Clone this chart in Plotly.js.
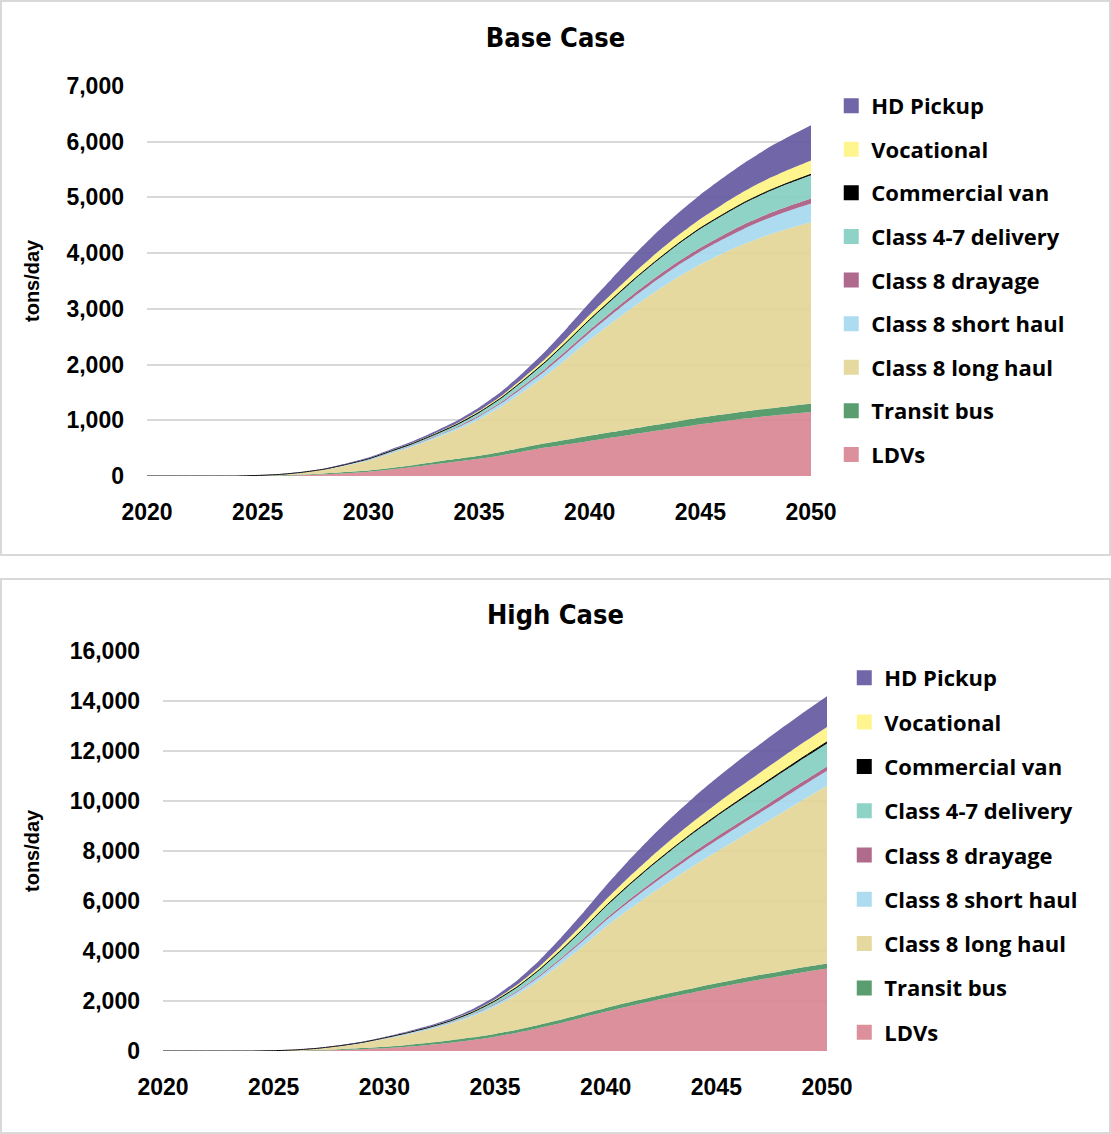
<!DOCTYPE html>
<html>
<head>
<meta charset="utf-8">
<script src="https://cdn.plot.ly/plotly-3.0.1.min.js"></script>
<style>
  html, body { margin: 0; padding: 0; background: #ffffff; }
  #wrap { position: relative; width: 1111px; height: 1134px; overflow: hidden; }
  .chart { position: absolute; left: 0; width: 1111px; height: 556px; }
  .box { position: absolute; border: 2px solid #d9d9d9; pointer-events: none; z-index: 10; box-sizing: border-box; }
</style>
</head>
<body>
<div id="wrap">
  <div id="base" class="chart" style="top:0px;"></div>
  <div id="high" class="chart" style="top:578px;"></div>
  <div class="box" style="left:0px; top:0px; width:1111px; height:556px;"></div>
  <div class="box" style="left:0px; top:578px; width:1111px; height:556px;"></div>
</div>
<script>
// ---------- DATA ----------
const years = [2020,2021,2022,2023,2024,2025,2026,2027,2028,2029,2030,2031,2032,2033,2034,2035,2036,2037,2038,2039,2040,2041,2042,2043,2044,2045,2046,2047,2048,2049,2050];
const seriesNames = ["LDVs","Transit bus","Class 8 long haul","Class 8 short haul","Class 8 drayage","Class 4-7 delivery","Commercial van","Vocational","HD Pickup"];

// Base Case (tons/day)
const baseLDV      = [0,0,0,0,0, 2,6,15,30,50, 75,115,160,210,260, 310,370,440,510,570, 630,690,750,810,870, 930,980,1030,1075,1115, 1150];
const baseTransit  = [0,0,0,0,0, 3,6,10,15,20, 25,30,35,42,48, 55,62,70,76,85, 92,98,103,108,113, 118,123,128,133,139, 145];
const baseLongHaul = [0,0,0,0,0, 4,14,35,66,120, 175,255,330,420,520, 650,810,1000,1210,1460, 1720,1960,2190,2400,2590, 2750,2890,3010,3110,3190, 3260];
const baseShortHaul= [0,0,0,0,0, 0.5,1,3,5,8, 13,18,24,30,38, 50,62,78,95,112, 130,150,170,190,210, 230,250,275,295,315, 335];
const baseDrayage  = [0,0,0,0,0, 0,0.5,1,2,3, 5,7,9,12,15, 20,25,30,36,42, 48,53,57,62,66, 70,74,78,82,86, 90];
const baseDelivery = [0,0,0,0,0, 0.5,1,2,4,7, 12,17,22,30,40, 52,68,90,115,145, 180,210,250,280,310, 340,360,380,395,408, 420];
const baseVan      = [0,0,0,0,0, 0,0,0.5,1,1, 2,2,3,3,4, 5,5,6,7,8, 9,10,10,11,12, 12,13,13,14,14, 15];
const baseVoc      = [0,0,0,0,0, 0,0.5,1,2,4, 7,10,13,17,22, 28,35,45,55,70, 85,100,115,135,150, 165,185,200,220,235, 250];
const baseHD       = [0,0,0,0,0, 0,1,3,6,10, 16,22,28,35,45, 60,75,100,135,175, 220,270,320,365,400, 435,470,510,550,590, 630];

// High Case (tons/day)
const highLDV      = [0,0,0,0,0, 3,10,25,45,75, 110,170,240,330,440, 570,730,920,1120,1350, 1570,1780,1980,2170,2350, 2530,2700,2860,3010,3160, 3300];
const highTransit  = [0,0,0,0,0, 5,12,20,30,42, 60,75,90,100,107, 115,125,135,140,145, 155,160,165,170,175, 180,185,190,193,197, 200];
const highLongHaul = [0,0,0,0,0, 3,17,53,118,197, 309,410,520,660,845, 1090,1391,1771,2238,2718, 3238,3690,4110,4510,4900, 5260,5610,5970,6350,6730, 7110];
const highShortHaul= [0,0,0,0,0, 1,3,6,10,15, 20,28,38,50,65, 85,110,140,172,205, 245,290,335,380,420, 455,490,520,550,575, 600];
const highDrayage  = [0,0,0,0,0, 0,1,2,3,5, 8,11,15,20,26, 33,42,52,62,72, 82,92,102,112,122, 132,142,152,160,168, 175];
const highDelivery = [0,0,0,0,0, 1,2,4,7,11, 16,24,34,48,70, 105,155,220,300,390, 480,570,650,715,770, 815,850,875,895,910, 920];
const highVan      = [0,0,0,0,0, 0,0,0,1,1, 2,2,3,4,5, 7,9,12,15,18, 22,26,30,34,38, 42,46,50,53,57, 60];
const highVoc      = [0,0,0,0,0, 1,2,4,6,9, 13,18,24,32,42, 60,88,125,168,212, 258,305,350,395,435, 470,505,535,560,582, 600];
const highHD       = [0,0,0,0,0, 1,3,6,10,15, 22,30,42,58,80, 115,170,245,335,440, 550,670,780,875,955, 1025,1085,1135,1175,1205, 1230];

const xTicks = [2020,2025,2030,2035,2040,2045,2050];

// ---------- STYLE ----------
const fillColors = ["rgba(215,132,145,0.9)","rgba(72,147,96,0.9)","rgba(226,213,149,0.9)","rgba(164,216,238,0.9)",
                    "rgba(167,89,127,0.9)","rgba(131,206,192,0.9)","rgba(0,0,0,1)","rgba(255,244,130,0.9)","rgba(96,85,158,0.9)"];
const legendColors = ["#DB909C","#5A9E70","#E5D9A0","#ADDCF0","#B06A8C","#8FD3C6","#000000","#FFF58F","#7066A8"];

const axisFont = {family: "Liberation Sans, Arial, sans-serif", size: 23, color: "#000000", weight: "bold"};
const legendFont = {family: "Open Sans, Noto Sans, sans-serif", size: 22, color: "#000000", weight: "bold"};
const titleFont = {family: "Liberation Sans Narrow, Arial Narrow, DejaVu Sans Condensed, sans-serif", size: 27, color: "#000000", weight: "bold"};

function buildTraces(vals) {
  const traces = [];
  vals.forEach((v, i) => {
    const isVan = seriesNames[i] === "Commercial van";
    traces.push({
      x: years, y: v, type: "scatter", mode: "lines", stackgroup: "one",
      fill: "tonexty", fillcolor: fillColors[i],
      line: {width: isVan ? 1 : 0, color: isVan ? "#000000" : fillColors[i], shape: "spline", smoothing: 0.5},
      name: seriesNames[i], showlegend: false, hoverinfo: "skip", legendgroup: "g" + i
    });
  });
  // legend entries (squares), top-to-bottom HD Pickup ... LDVs
  for (let i = vals.length - 1; i >= 0; i--) {
    traces.push({
      x: [null], y: [null], type: "scatter", mode: "markers",
      marker: {symbol: "square", size: 15, color: legendColors[i]},
      name: seriesNames[i], showlegend: true, legendgroup: "g" + i, hoverinfo: "skip"
    });
  }
  return traces;
}

function buildLayout(title, yMax, dtick, m, legendX, legendY, gap, titleY) {
  const plotW = 1111 - m.l - m.r;
  return {
    width: 1111, height: 556,
    margin: m,
    paper_bgcolor: "rgba(0,0,0,0)", plot_bgcolor: "rgba(0,0,0,0)",
    showlegend: true,
    title: {text: title, font: titleFont, x: 0.5, xref: "container", xanchor: "center", y: titleY, yref: "container", yanchor: "middle"},
    xaxis: {range: [2020, 2050], tickvals: xTicks, ticktext: xTicks.map(String), showgrid: false, zeroline: false,
            showline: false, ticks: "", tickfont: axisFont, ticklabelstandoff: 20, fixedrange: true},
    yaxis: {range: [0, yMax], dtick: dtick, tickformat: ",d", showgrid: true, gridcolor: "#d9d9d9", gridwidth: 2,
            zeroline: false, showline: false, ticks: "", tickfont: axisFont, ticklabelstandoff: 22, fixedrange: true},
    legend: {x: legendX, y: legendY, xanchor: "left", yanchor: "top", font: legendFont, traceorder: "grouped",
             tracegroupgap: gap, maxheight: 540, bgcolor: "rgba(0,0,0,0)", itemclick: false, itemdoubleclick: false},
    annotations: [{text: "tons/day", textangle: -90, showarrow: false, xref: "paper", yref: "paper",
                   x: (32 - m.l) / plotW, y: 0.5, xanchor: "center", yanchor: "middle",
                   font: {family: "Liberation Sans, Arial, sans-serif", size: 20, color: "#000000", weight: "bold"}}]
  };
}

const baseVals = [baseLDV, baseTransit, baseLongHaul, baseShortHaul, baseDrayage, baseDelivery, baseVan, baseVoc, baseHD];
const highVals = [highLDV, highTransit, highLongHaul, highShortHaul, highDrayage, highDelivery, highVan, highVoc, highHD];

Plotly.newPlot("base", buildTraces(baseVals),
  buildLayout("Base Case", 7000, 1000, {l: 147, r: 300, t: 86, b: 80, pad: 0}, 1.0305, 1.003, 12, 0.9317),
  {staticPlot: true, displayModeBar: false});
Plotly.newPlot("high", buildTraces(highVals),
  buildLayout("High Case", 16000, 2000, {l: 163, r: 284, t: 73, b: 83, pad: 0}, 1.026, 0.985, 12.7, 0.9335),
  {staticPlot: true, displayModeBar: false});
</script>
</body>
</html>
